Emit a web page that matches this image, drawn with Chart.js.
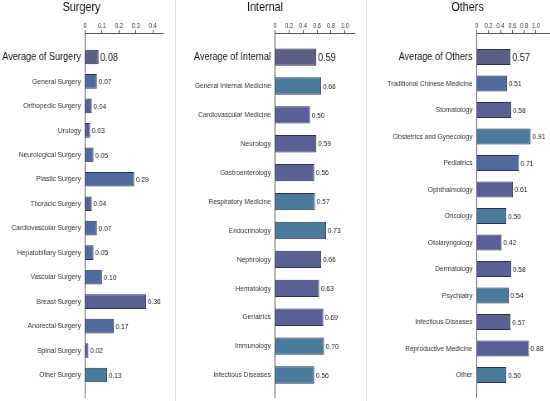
<!DOCTYPE html>
<html>
<head>
<meta charset="utf-8">
<script src="https://cdn.jsdelivr.net/npm/chart.js@4.4.1/dist/chart.umd.min.js"></script>
<style>
    html, body { margin: 0; padding: 0; background: #fff; overflow: hidden; }
    body { width: 550px; height: 401px; position: relative; }
    /* the figure's lettering is horizontally condensed, so each panel is squeezed a little */
    canvas { position: absolute; top: 0; transform: scaleX(0.83); transform-origin: 0 0; }
    .sep { position: absolute; top: 0; width: 1px; height: 401px; background: #e0e0e0; }
</style>
</head>
<body>
<div class="sep" style="left:175px"></div>
<div class="sep" style="left:366px"></div>
<canvas id="surgery" width="200" height="401" style="left:0px"></canvas>
<canvas id="internal" width="229" height="401" style="left:175px"></canvas>
<canvas id="others" width="207" height="401" style="left:385px"></canvas>
<script>
// data
const surgeryLabels = ['Average of Surgery', 'General Surgery', 'Orthopedic Surgery', 'Urology', 'Neurological Surgery',
    'Plastic Surgery', 'Thoracic Surgery', 'Cardiovascular Surgery', 'Hepatobiliary Surgery', 'Vascular Surgery',
    'Breast Surgery', 'Anorectal Surgery', 'Spinal Surgery', 'Other Surgery'];
const surgeryValues = [0.08, 0.07, 0.04, 0.03, 0.05, 0.29, 0.04, 0.07, 0.05, 0.10, 0.36, 0.17, 0.02, 0.13];
const surgeryTicks = [0, 0.1, 0.2, 0.3, 0.4];

const internalLabels = ['Average of Internal', 'General Internal Medicine', 'Cardiovascular Medicine', 'Neurology',
    'Gastroenterology', 'Respiratory Medicine', 'Endocrinology', 'Nephrology', 'Hematology', 'Geriatrics',
    'Immunology', 'Infectious Diseases'];
const internalValues = [0.59, 0.66, 0.50, 0.59, 0.56, 0.57, 0.73, 0.66, 0.63, 0.69, 0.70, 0.56];
const internalTicks = [0, 0.2, 0.4, 0.6, 0.8, 1];

const othersLabels = ['Average of Others', 'Traditional Chinese Medicine', 'Stomatology', 'Obstetrics and Gynecology',
    'Pediatrics', 'Ophthalmology', 'Oncology', 'Otolaryngology', 'Dermatology', 'Psychiatry',
    'Infectious Diseases', 'Reproductive Medicine', 'Other'];
const othersValues = [0.57, 0.51, 0.58, 0.91, 0.71, 0.61, 0.50, 0.42, 0.58, 0.54, 0.57, 0.88, 0.50];
const othersTicks = [0, 0.2, 0.4, 0.6, 0.8, 1];

// bar colours
const AVG = '#5c5e84', TEAL = '#4b7b9c', BLUE = '#51699c', PURP = '#5a6094';
const surgeryColors = [AVG, BLUE, PURP, PURP, BLUE, BLUE, PURP, BLUE, BLUE, BLUE, PURP, BLUE, PURP, TEAL];
const internalColors = [AVG, TEAL, PURP, PURP, PURP, TEAL, TEAL, PURP, PURP, PURP, TEAL, TEAL];
const othersColors = [AVG, BLUE, PURP, TEAL, BLUE, PURP, TEAL, PURP, PURP, TEAL, PURP, PURP, TEAL];

const family = '"Liberation Sans", Arial, sans-serif';
const titleH = 15.6;

// value text at the end of each bar
const valueLabels = {
    id: 'valueLabels',
    afterDatasetsDraw(chart) {
        const ctx = chart.ctx;
        const meta = chart.getDatasetMeta(0);
        const data = chart.data.datasets[0].data;
        ctx.save();
        ctx.textAlign = 'left';
        ctx.textBaseline = 'middle';
        ctx.fillStyle = '#222';
        meta.data.forEach((bar, i) => {
            ctx.font = (i === 0 ? 11 : 8) + 'px ' + family;
            ctx.fillText(data[i].x.toFixed(2), bar.x + 2, bar.y + 0.5);
        });
        ctx.restore();
    }
};

const makePanel = (id, title, labels, values, ticks, colors, xMax, yMin, yMax, labelWidth, padRight) => {
    const ctx = document.getElementById(id).getContext('2d');
    return new Chart(ctx, {
        type: 'bar',
        data: {
            datasets: [{
                data: values.map((v, i) => ({ x: v, y: i })),
                backgroundColor: colors,
                borderColor: '#2d3352',
                borderWidth: 1,
                barPercentage: 0.6,
                categoryPercentage: 1,
            }]
        },
        options: {
            indexAxis: 'y',
            responsive: false,
            animation: false,
            layout: { padding: { left: 0, right: padRight, top: 0, bottom: 4 } },
            plugins: {
                legend: { display: false },
                tooltip: { enabled: false },
                title: {
                    display: true,
                    text: title,
                    color: '#111',
                    font: { family: family, size: 13, weight: 'normal' },
                    padding: 0
                }
            },
            scales: {
                x: {
                    type: 'linear',
                    position: 'top',
                    min: 0,
                    max: xMax,
                    afterBuildTicks: (s) => { s.ticks = ticks.map(v => ({ value: v })); },
                    afterFit: (s) => { s.height = 33 - titleH; },
                    grid: { drawOnChartArea: false, tickLength: 3, color: '#555' },
                    border: { color: '#555' },
                    ticks: { padding: 0, maxRotation: 0, autoSkip: false, color: '#333', font: { family: family, size: 7 } }
                },
                y: {
                    type: 'linear',
                    reverse: true,
                    offset: false,
                    min: yMin,
                    max: yMax,
                    afterBuildTicks: (s) => { s.ticks = labels.map((l, i) => ({ value: i })); },
                    afterFit: (s) => {
                        s.width = labelWidth;
                        s.paddingTop = 0;
                        s.paddingBottom = 0;
                    },
                    grid: { display: false, drawTicks: false, offset: false },
                    border: { color: '#555' },
                    ticks: {
                        padding: 5,
                        autoSkip: false,
                        callback: (v) => labels[v],
                        color: (c) => c.index === 0 ? '#111' : '#333',
                        font: (c) => ({ family: family, size: c.index === 0 ? 11 : 8 })
                    }
                }
            }
        },
        plugins: [valueLabels]
    });
};

const chartS = makePanel('surgery', 'Surgery', surgeryLabels, surgeryValues, surgeryTicks, surgeryColors,
    0.46, -0.98, 13.9, 102.4, 3.6);
const chartI = makePanel('internal', 'Internal', internalLabels, internalValues, internalTicks, internalColors,
    1.143, -0.833, 11.76, 120.5, 12.1);
const chartO = makePanel('others', 'Others', othersLabels, othersValues, othersTicks, othersColors,
    1.236, -0.906, 12.83, 110.5, 8.2);
</script>
</body>
</html>
